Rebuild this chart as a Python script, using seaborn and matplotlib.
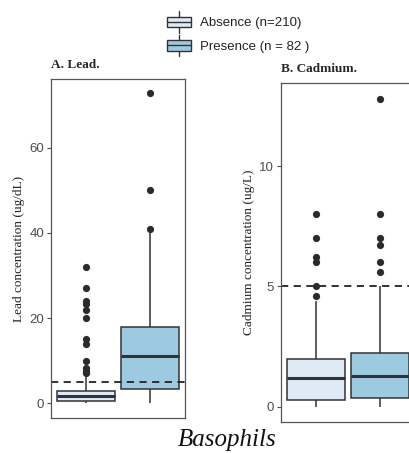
import pandas as pd
import seaborn as sns
import matplotlib.pyplot as plt
from matplotlib.patches import Patch, Rectangle
from matplotlib.lines import Line2D
from matplotlib.legend_handler import HandlerBase

# groups
groups = ["Absence", "Presence"]
group_labels = ["Absence (n=210)", "Presence (n = 82 )"]
box_colors = ["#deebf7", "#9ecae1"]

# five number summaries (low whisker, Q1, median, Q3, high whisker)
lead_absence_box = [0.0, 0.5, 1.6, 2.8, 6.3]
lead_presence_box = [0.0, 3.4, 11.1, 18.0, 40.0]
lead_absence_out = [7.0, 7.5, 8.2, 10.0, 14.0, 15.0, 20.0, 22.0, 23.3, 24.0, 27.0, 32.0]
lead_presence_out = [41.0, 50.0, 72.8]

cad_absence_box = [0.0, 0.3, 1.2, 1.98, 4.4]
cad_presence_box = [0.0, 0.38, 1.29, 2.22, 5.0]
cad_absence_out = [4.6, 5.0, 6.0, 6.2, 7.0, 8.0]
cad_presence_out = [5.6, 6.0, 6.7, 7.0, 8.0, 12.8]

lead_limit = 5
cad_limit = 5

sns.set_style("white")
plt.rcParams['font.family'] = ['Liberation Sans', 'DejaVu Sans']

edge = "#333333"
tick_col = "#4d4d4d"


def make_df(a, b):
    return pd.DataFrame({"group": [groups[0]] * len(a) + [groups[1]] * len(b),
                         "value": list(a) + list(b)})


def draw_panel(ax, box_a, box_b, out_a, out_b, limit, ylim, yticks, ylabel, title):
    box_df = make_df(box_a, box_b)
    out_df = make_df(out_a, out_b)
    sns.boxplot(data=box_df, x="group", y="value", hue="group", order=groups, hue_order=groups,
                palette=box_colors, saturation=1, legend=False, width=0.9, whis=(0, 100),
                showfliers=False, linecolor=edge, linewidth=1.1, medianprops={"linewidth": 2.2},
                capprops={"visible": False}, ax=ax)
    sns.stripplot(data=out_df, x="group", y="value", order=groups, jitter=False,
                  color="#2b2b2b", size=5.2, linewidth=0, ax=ax)
    ax.axhline(limit, color="#222222", linestyle=(0, (4, 3)), linewidth=1.3)
    ax.set_xlim(-0.55, 1.55)
    ax.set_ylim(*ylim)
    ax.set_xticks([])
    ax.set_yticks(yticks)
    ax.set_xlabel("")
    ax.set_ylabel(ylabel, family="Liberation Serif", fontsize=9.5, color="#222222", labelpad=3)
    ax.tick_params(axis="y", length=3, width=0.8, colors=tick_col, labelsize=9.5, left=True, pad=2)
    for s in ax.spines.values():
        s.set_color("#555555")
        s.set_linewidth(0.9)
    ax.set_title(title, family="Liberation Serif", fontweight="bold", fontsize=9.5,
                 loc="left", x=0, pad=8)


fig = plt.figure(figsize=(4.1, 4.53), dpi=100)
ax1 = fig.add_axes([51 / 410, 1 - 418 / 453, 134 / 410, 339 / 453])
ax2 = fig.add_axes([281 / 410, 1 - 421.7 / 453, 134 / 410, 339 / 453])

draw_panel(ax1, lead_absence_box, lead_presence_box, lead_absence_out, lead_presence_out,
           lead_limit, (-3.5, 76.2), [0, 20, 40, 60], "Lead concentration (ug/dL)", "A. Lead.")
draw_panel(ax2, cad_absence_box, cad_presence_box, cad_absence_out, cad_presence_out,
           cad_limit, (-0.62, 13.46), [0, 5, 10], "Cadmium concentration (ug/L)", "B. Cadmium.")


# legend glyph that looks like a little boxplot
class BoxHandler(HandlerBase):
    def create_artists(self, legend, orig_handle, xdescent, ydescent, width, height, fontsize, trans):
        x0, y0 = -xdescent, -ydescent
        bh = height * 0.75
        by = y0 + (height - bh) / 2
        cx = x0 + width / 2
        top = Line2D([cx, cx], [by + bh, y0 + height + 3], color=edge, linewidth=1.0, transform=trans)
        bot = Line2D([cx, cx], [y0 - 3, by], color=edge, linewidth=1.0, transform=trans)
        rect = Rectangle((x0, by), width, bh, facecolor=orig_handle.get_facecolor(),
                         edgecolor=edge, linewidth=1.0, transform=trans)
        mid = Line2D([x0, x0 + width], [by + bh / 2] * 2, color=edge, linewidth=1.0, transform=trans)
        return [top, bot, rect, mid]


handles = [Patch(facecolor=c) for c in box_colors]
fig.legend(handles, group_labels, handler_map={Patch: BoxHandler()},
           loc="upper left", bbox_to_anchor=(158 / 410, 1 - 6 / 453), frameon=False,
           fontsize=9.5, handlelength=1.8, handleheight=1.2, labelspacing=0.7,
           handletextpad=0.7, borderpad=0.2, labelcolor="#222222")

fig.text(227 / 410, 1 - 440 / 453, "Basophils", family="Liberation Serif", style="italic",
         fontsize=18, ha="center", va="center", color="#111111")

plt.savefig("out.png", dpi=100)
